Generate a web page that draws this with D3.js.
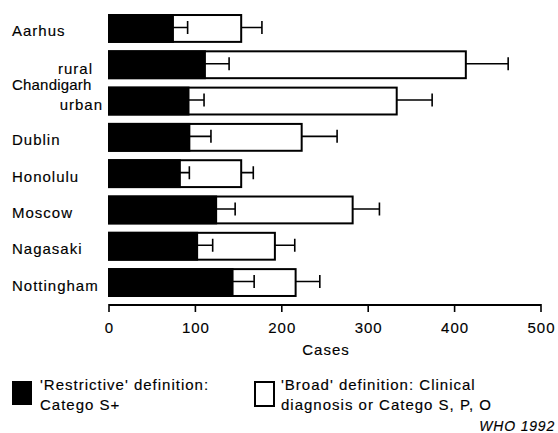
<!DOCTYPE html>
<html lang="en">
  <head>
    <meta charset="UTF-8" />
    <title>Cases by definition</title>
    <style>
      body {
        margin: 0;
        background: #fff;
      }
      svg text {
        font-family: "Liberation Sans", Arial, sans-serif;
        font-size: 15px;
        letter-spacing: 1px;
        fill: #000;
        stroke: #000;
        stroke-width: 0.15px;
      }
    </style>
  </head>
  <body>
    <div id="chart"></div>
    <script src="https://d3js.org/d3.v7.min.js"></script>
    <script>
      // values
      const categories = ["Aarhus", "rural", "urban", "Dublin", "Honolulu", "Moscow", "Nagasaki", "Nottingham"];
      const groupLabel = "Chandigarh"; // spans "rural" and "urban"
      const restrictive = [74, 111, 92, 93, 82, 124, 102, 143];
      const restrictiveErr = [17, 28, 18, 25, 11, 22, 18, 25];
      const broad = [153, 413, 333, 223, 153, 282, 192, 216];
      const broadErr = [24, 49, 41, 41, 14, 31, 23, 28];
      const xTicks = [0, 100, 200, 300, 400, 500];

      const width = 558;
      const height = 433;

      const svg = d3
        .select("#chart")
        .append("svg")
        .attr("width", width)
        .attr("height", height);

      const x = d3.scaleLinear().domain([0, 500]).range([109, 541]);

      const y = d3
        .scaleBand()
        .domain(d3.range(categories.length))
        .range([10.3, 300.7])
        .paddingInner(0.26)
        .paddingOuter(0.13);

      const bh = y.bandwidth();
      const mid = (i) => y(i) + bh / 2;

      // bars
      const rows = svg
        .selectAll("g.row")
        .data(categories)
        .enter()
        .append("g")
        .attr("class", "row");

      rows
        .append("rect")
        .attr("x", x(0))
        .attr("y", (d, i) => y(i))
        .attr("width", (d, i) => x(broad[i]) - x(0))
        .attr("height", bh)
        .attr("fill", "#fff")
        .attr("stroke", "#000")
        .attr("stroke-width", 2);

      rows
        .append("rect")
        .attr("x", x(0))
        .attr("y", (d, i) => y(i))
        .attr("width", (d, i) => x(restrictive[i]) - x(0))
        .attr("height", bh)
        .attr("fill", "#000")
        .attr("stroke", "#000")
        .attr("stroke-width", 2);

      // error bars (upper side only)
      function whisker(vals, errs) {
        rows
          .append("path")
          .attr("d", (d, i) => {
            const x0 = x(vals[i]);
            const x1 = x(vals[i] + errs[i]);
            const c = mid(i) - 1;
            return `M${x0},${c}H${x1}M${x1},${c - 6.5}V${c + 6.5}`;
          })
          .attr("fill", "none")
          .attr("stroke", "#000")
          .attr("stroke-width", 1.6);
      }
      whisker(restrictive, restrictiveErr);
      whisker(broad, broadErr);

      // row labels
      rows
        .append("text")
        .attr("x", (d, i) => (i === 1 || i === 2 ? (i === 1 ? 93 : 103) : 12))
        .attr("y", (d, i) => mid(i) + (i === 1 || i === 2 ? 9 : 8))
        .attr("text-anchor", (d, i) => (i === 1 || i === 2 ? "end" : "start"))
        .text((d) => d);

      svg
        .append("text")
        .attr("x", 12)
        .attr("y", (mid(1) + mid(2)) / 2 + 7)
        .style("letter-spacing", "0.2px")
        .text(groupLabel);

      // x axis
      const axis = svg.append("g").attr("transform", "translate(0,305)");
      axis
        .append("line")
        .attr("x1", x(0))
        .attr("x2", x(500))
        .attr("stroke", "#000")
        .attr("stroke-width", 2);
      axis
        .selectAll("line.tick")
        .data(xTicks)
        .enter()
        .append("line")
        .attr("class", "tick")
        .attr("x1", (d) => x(d))
        .attr("x2", (d) => x(d))
        .attr("y1", -1)
        .attr("y2", 7)
        .attr("stroke", "#000")
        .attr("stroke-width", 1.6);
      axis
        .selectAll("text")
        .data(xTicks)
        .enter()
        .append("text")
        .attr("x", (d) => x(d) + 0.5)
        .attr("y", 28)
        .attr("text-anchor", "middle")
        .text((d) => d);

      svg
        .append("text")
        .attr("x", (x(0) + x(500)) / 2 + 1)
        .attr("y", 355)
        .attr("text-anchor", "middle")
        .text("Cases");

      // legend
      svg
        .append("rect")
        .attr("x", 12)
        .attr("y", 381)
        .attr("width", 20)
        .attr("height", 24)
        .attr("fill", "#000");
      svg
        .append("text")
        .attr("x", 40)
        .attr("y", 390)
        .text("'Restrictive' definition:");
      svg
        .append("text")
        .attr("x", 40)
        .attr("y", 409.5)
        .text("Catego S+");

      svg
        .append("rect")
        .attr("x", 255)
        .attr("y", 382)
        .attr("width", 19)
        .attr("height", 24)
        .attr("fill", "#fff")
        .attr("stroke", "#000")
        .attr("stroke-width", 2);
      svg
        .append("text")
        .attr("x", 281)
        .attr("y", 389.5)
        .text("'Broad' definition: Clinical");
      svg
        .append("text")
        .attr("x", 281)
        .attr("y", 410)
        .text("diagnosis or Catego S, P, O");

      svg
        .append("text")
        .attr("x", 555)
        .attr("y", 431)
        .attr("text-anchor", "end")
        .style("font-size", "14px")
        .style("font-style", "italic")
        .style("letter-spacing", "0.8px")
        .text("WHO 1992");
    </script>
  </body>
</html>
